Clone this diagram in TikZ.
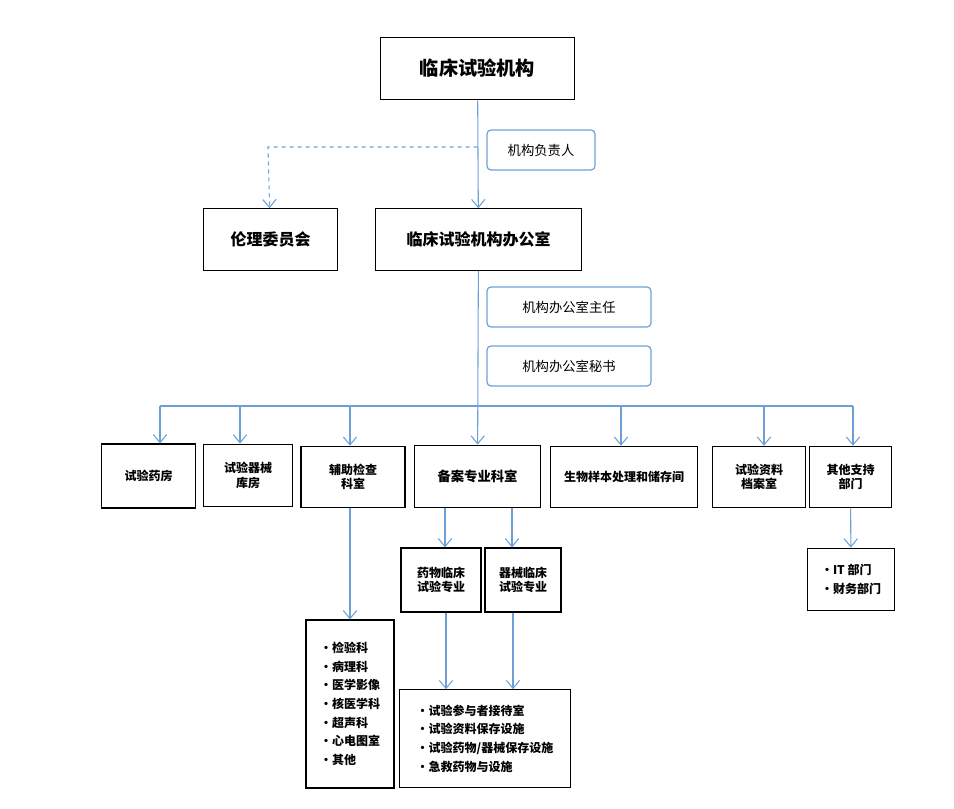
\documentclass[tikz,border=0pt]{standalone}
\usepackage{fontspec}
\setmainfont{Noto Sans CJK SC}
\usepackage{tikz}
\usetikzlibrary{arrows.meta}
\definecolor{linkblue}{RGB}{110,160,215}

\begin{document}
\begin{tikzpicture}
[
x=0.75pt, y=-0.75pt,
box/.style={rectangle, draw=black, line width=0.9pt, inner sep=0pt, align=center, font=\bfseries\small},
list/.style={box, align=left, inner sep=4pt},
role/.style={rectangle, rounded corners=3pt, draw=linkblue, line width=0.9pt, inner sep=0pt, font=\normalsize},
link/.style={draw=linkblue, line width=0.8pt, -{Straight Barb[length=6pt,width=10pt]}},
bus/.style={draw=linkblue, line width=0.8pt}
]
\useasboundingbox (0,0) rectangle (954,809);
%Nodes
\node[box, minimum width=146pt, minimum height=47pt, font=\bfseries\Large] (org)   at (477.5,68.5) {临床试验机构};
\node[role, minimum width=81pt, minimum height=30pt]   (head)  at (541,150)  {机构负责人};
\node[box, minimum width=100pt, minimum height=46pt, font=\bfseries\large] (ethics) at (270.5,239.5) {伦理委员会};
\node[box, minimum width=155pt, minimum height=46pt, font=\bfseries\large] (office) at (478.5,239.5) {临床试验机构办公室};
\node[role, minimum width=123pt, minimum height=30pt]  (chief) at (569,307)  {机构办公室主任};
\node[role, minimum width=123pt, minimum height=30pt]  (secr)  at (569,366)  {机构办公室秘书};

\node[box, minimum width=70pt, minimum height=48pt]  (pharm)  at (148.5,476) {试验药房};
\node[box, minimum width=67pt, minimum height=47pt]  (store)  at (248,475.5) {试验器械\\库房};
\node[box, minimum width=78pt, minimum height=46pt]  (aux)    at (353,477)   {辅助检查\\科室};
\node[box, minimum width=94pt, minimum height=47pt, font=\bfseries\normalsize] (spec) at (477.5,476.5) {备案专业科室};
\node[box, minimum width=110pt, minimum height=46pt] (bio)    at (624,477)   {生物样本处理和储存间};
\node[box, minimum width=70pt, minimum height=46pt]  (arch)   at (759,477)   {试验资料\\档案室};
\node[box, minimum width=61pt, minimum height=46pt]  (other)  at (850.5,477) {其他支持\\部门};

\node[box, minimum width=60pt, minimum height=48pt]  (drug)   at (441,580)   {药物临床\\试验专业};
\node[box, minimum width=57pt, minimum height=48pt]  (device) at (523,580)   {器械临床\\试验专业};
\node[list, minimum width=66pt, minimum height=126pt] (dept) at (350,704)
  {•检验科\\[3pt]•病理科\\[3pt]•医学影像\\[3pt]•核医学科\\[3pt]•超声科\\[3pt]•心电图室\\[3pt]•其他};
\node[list, minimum width=128pt, minimum height=73pt] (fac) at (485,738.5)
  {•试验参与者接待室\\[3pt]•试验资料保存设施\\[3pt]•试验药物/器械保存设施\\[3pt]•急救药物与设施};
\node[list, minimum width=65pt, minimum height=47pt] (it) at (851,579.5) {•IT 部门\\[3pt]•财务部门};

\coordinate (busL) at (160,406);
\coordinate (busR) at (853,406);
\coordinate (dash) at (268,147);

%Lines
\draw[link] (org) -- (office);
\draw[link, dashed] (org.south |- dash) -- (dash) -- (ethics);
\draw[bus] (busL) -- (busR);
\draw[link] (office) -- (spec);
\foreach \n/\x in {pharm/160, store/240, aux/350, bio/621, arch/764, other/853}
  \draw[link] (\x,406) -- (\n.north -| {(\x,0)});
\draw[link] (aux.south -| dept.north) -- (dept.north);
\foreach \n/\x in {drug/445, device/512}
  \draw[link] (spec.south -| {(\x,0)}) -- (\n.north -| {(\x,0)});
\foreach \n/\x in {drug/446, device/513}
  \draw[link] (\n.south -| {(\x,0)}) -- (fac.north -| {(\x,0)});
\draw[link] (other) -- (it);
\end{tikzpicture}
\end{document}
